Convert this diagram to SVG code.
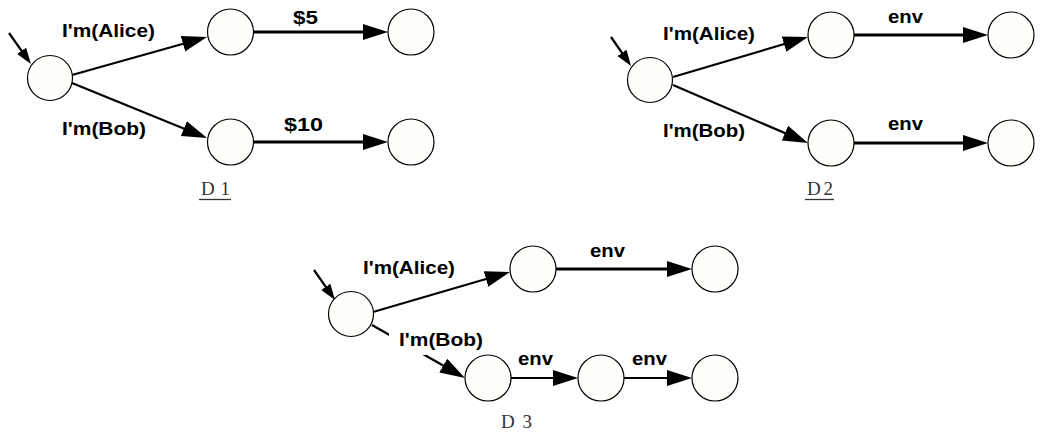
<svg xmlns="http://www.w3.org/2000/svg" width="1040" height="437" viewBox="0 0 1040 437">
<style>
.n{fill:#fefefb;stroke:#000;stroke-width:1.2}
.e{stroke:#000;fill:none}
.t3{stroke-width:3}
.t2{stroke-width:2.2}
.lb{font-family:"Liberation Sans",Arial,sans-serif;font-size:19px;font-weight:bold;fill:#000}
.cap{font-family:"Liberation Serif","Times New Roman",serif;font-size:19px;fill:#333}
.ul{stroke:#333;stroke-width:1.3}
</style>
<defs>
<marker id="big" markerUnits="userSpaceOnUse" markerWidth="26" markerHeight="18" refX="17" refY="8" orient="auto"><path d="M0,0 L25,8 L0,16 z" fill="#000"/></marker>
<marker id="small" markerUnits="userSpaceOnUse" markerWidth="18" markerHeight="12" refX="11" refY="5.5" orient="auto"><path d="M0,0 L16,5.5 L0,11 z" fill="#000"/></marker>
</defs>
<rect width="1040" height="437" fill="#fff"/>
<g id="connectors">
<line class="e t2" x1="9" y1="33" x2="28" y2="59.8" marker-end="url(#small)"/>
<line class="e t2" x1="72" y1="75" x2="199.3" y2="39.2" marker-end="url(#big)"/>
<line class="e t2" x1="72" y1="83" x2="199.6" y2="135" marker-end="url(#big)"/>
<line class="e t3" x1="254" y1="32" x2="380" y2="32" marker-end="url(#big)"/>
<line class="e t3" x1="254" y1="142" x2="380" y2="142" marker-end="url(#big)"/>
<line class="e t2" x1="611" y1="37" x2="628.2" y2="61.9" marker-end="url(#small)"/>
<line class="e t2" x1="673" y1="77" x2="800.3" y2="39.3" marker-end="url(#big)"/>
<line class="e t2" x1="673" y1="85" x2="800.6" y2="139.8" marker-end="url(#big)"/>
<line class="e t3" x1="854" y1="35" x2="980" y2="35" marker-end="url(#big)"/>
<line class="e t3" x1="854" y1="143" x2="980" y2="143" marker-end="url(#big)"/>
<line class="e t2" x1="314" y1="270" x2="332.1" y2="295.9" marker-end="url(#small)"/>
<line class="e t2" x1="373" y1="312" x2="502.3" y2="274.2" marker-end="url(#big)"/>
<line class="e t2" x1="372" y1="325" x2="458" y2="374" marker-end="url(#big)"/>
<line class="e t3" x1="556" y1="269" x2="684" y2="269" marker-end="url(#big)"/>
<line class="e t2" x1="511" y1="378" x2="570" y2="378" marker-end="url(#big)"/>
<line class="e t2" x1="624" y1="378" x2="684" y2="378" marker-end="url(#big)"/>
</g>
<g id="labels">
<text class="lb" x="62" y="37" textLength="93" lengthAdjust="spacingAndGlyphs">I'm(Alice)</text>
<text class="lb" x="62" y="135" textLength="84" lengthAdjust="spacingAndGlyphs">I'm(Bob)</text>
<text class="lb" x="293" y="24" textLength="25" lengthAdjust="spacingAndGlyphs">$5</text>
<text class="lb" x="284" y="131" textLength="39" lengthAdjust="spacingAndGlyphs">$10</text>
<text class="lb" x="663" y="40" textLength="92" lengthAdjust="spacingAndGlyphs">I'm(Alice)</text>
<text class="lb" x="663" y="137" textLength="82" lengthAdjust="spacingAndGlyphs">I'm(Bob)</text>
<text class="lb" x="888" y="23" textLength="35" lengthAdjust="spacingAndGlyphs">env</text>
<text class="lb" x="888" y="130" textLength="35" lengthAdjust="spacingAndGlyphs">env</text>
<text class="lb" x="363" y="274" textLength="92" lengthAdjust="spacingAndGlyphs">I'm(Alice)</text>
<rect x="389" y="330" width="99" height="25" fill="#fff"/>
<text class="lb" x="399" y="346" textLength="84" lengthAdjust="spacingAndGlyphs">I'm(Bob)</text>
<text class="lb" x="590" y="257" textLength="35" lengthAdjust="spacingAndGlyphs">env</text>
<text class="lb" x="518" y="365" textLength="35" lengthAdjust="spacingAndGlyphs">env</text>
<text class="lb" x="632" y="365" textLength="35" lengthAdjust="spacingAndGlyphs">env</text>
<text class="cap" x="201" y="195" textLength="29" lengthAdjust="spacing">D1</text>
<line class="ul" x1="199" y1="199.5" x2="231" y2="199.5"/>
<text class="cap" x="807" y="195" textLength="26" lengthAdjust="spacing">D2</text>
<line class="ul" x1="805" y1="199.5" x2="834" y2="199.5"/>
<text class="cap" x="501" y="428" textLength="31" lengthAdjust="spacing">D3</text>
</g>
<g id="d1-s"><circle class="n" cx="50" cy="78" r="22.5"/></g>
<g id="d1-a1"><circle class="n" cx="230.5" cy="32" r="23"/></g>
<g id="d1-a2"><circle class="n" cx="411" cy="32" r="23"/></g>
<g id="d1-b1"><circle class="n" cx="230.5" cy="142" r="23"/></g>
<g id="d1-b2"><circle class="n" cx="411" cy="142" r="23"/></g>
<g id="d2-s"><circle class="n" cx="650" cy="80" r="22.5"/></g>
<g id="d2-a1"><circle class="n" cx="831" cy="35" r="23"/></g>
<g id="d2-a2"><circle class="n" cx="1011" cy="35" r="23"/></g>
<g id="d2-b1"><circle class="n" cx="831" cy="143" r="23"/></g>
<g id="d2-b2"><circle class="n" cx="1011" cy="143" r="23"/></g>
<g id="d3-s"><circle class="n" cx="351" cy="314" r="22.5"/></g>
<g id="d3-a1"><circle class="n" cx="533" cy="269" r="23"/></g>
<g id="d3-a2"><circle class="n" cx="715" cy="269" r="23"/></g>
<g id="d3-b1"><circle class="n" cx="488" cy="378" r="23"/></g>
<g id="d3-b2"><circle class="n" cx="601" cy="378" r="23"/></g>
<g id="d3-b3"><circle class="n" cx="715" cy="378" r="23"/></g>
</svg>
